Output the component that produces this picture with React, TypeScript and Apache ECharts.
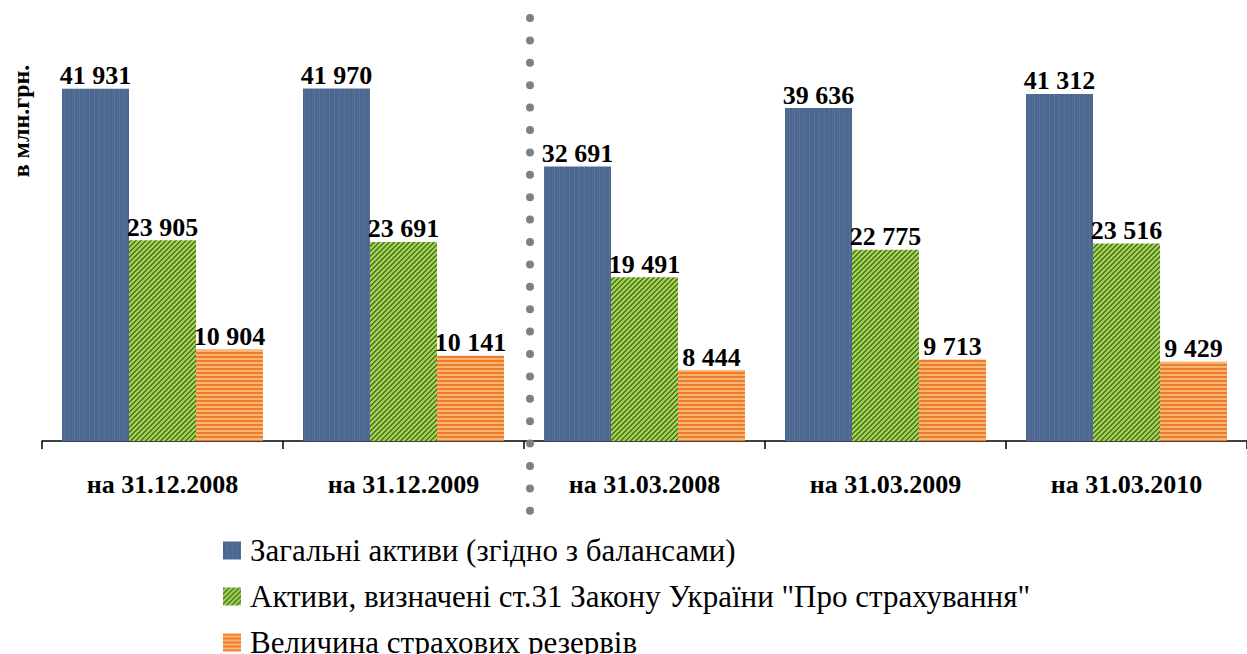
import React, { useEffect, useRef } from "react";
import * as echarts from "echarts";

const categories = ["на 31.12.2008", "на 31.12.2009", "на 31.03.2008", "на 31.03.2009", "на 31.03.2010"];
const seriesNames = [
  "Загальні активи (згідно з балансами)",
  "Активи, визначені ст.31 Закону України \"Про страхування\"",
  "Величина страхових резервів",
];
const totalAssets = [41931, 41970, 32691, 39636, 41312];
const definedAssets = [23905, 23691, 19491, 22775, 23516];
const reserves = [10904, 10141, 8444, 9713, 9429];
const yTitle = "в млн.грн.";

function makeTile(w: number, h: number, colorAt: (x: number, y: number) => string) {
  const c = document.createElement("canvas");
  c.width = w;
  c.height = h;
  const ctx = c.getContext("2d")!;
  for (let x = 0; x < w; x++) {
    for (let y = 0; y < h; y++) {
      ctx.fillStyle = colorAt(x, y);
      ctx.fillRect(x, y, 1, 1);
    }
  }
  return c;
}

const fmt = (v: number) => String(v).replace(/\B(?=(\d{3})+(?!\d))/g, " ");

export default function App() {
  const ref = useRef<HTMLDivElement>(null);
  useEffect(() => {
    if (!ref.current) return;
    const chart = echarts.init(ref.current, undefined, { renderer: "svg" });
    const blueTile = makeTile(5, 1, (x) => (x === 4 ? "#5E6F99" : x === 2 ? "#4F6C94" : "#4A678F"));
    const greenTile = makeTile(5, 5, (x, y) => ((x + y) % 5 < 2 ? "#4E7D1E" : "#A3CD57"));
    const orangeTile = makeTile(1, 4, (_x, y) => (y < 2 ? "#EE7A2A" : "#F9B672"));
    const pat = (img: HTMLCanvasElement) => ({ image: img, repeat: "repeat" } as any);
    const label = {
      show: true,
      position: "top",
      distance: 0,
      formatter: (p: any) => fmt(p.value),
      color: "#000",
      fontFamily: "Liberation Serif",
      fontWeight: "bold",
      fontSize: 26,
    };
    const mk = (name: string, data: number[], img: HTMLCanvasElement) => ({
      name,
      type: "bar",
      data,
      barWidth: 67,
      barGap: "0%",
      itemStyle: { color: pat(img) },
      label,
    });
    chart.setOption({
      animation: false,
      grid: { left: 42, width: 1215, top: 21, bottom: 213, containLabel: false },
      xAxis: {
        type: "category",
        data: categories,
        axisLine: { lineStyle: { color: "#000", width: 1.5 } },
        axisTick: { show: true, length: 8, lineStyle: { color: "#000", width: 1.5 } },
        axisLabel: {
          margin: 30,
          color: "#000",
          fontFamily: "Liberation Serif",
          fontWeight: "bold",
          fontSize: 26,
          interval: 0,
        },
      },
      yAxis: { type: "value", min: 0, max: 50000, show: false, splitLine: { show: false } },
      legend: {
        orient: "vertical",
        left: 218,
        top: 530,
        height: 200,
        itemWidth: 18,
        itemHeight: 18,
        itemGap: 15,
        icon: "rect",
        textStyle: {
          color: "#000",
          fontFamily: "Liberation Serif",
          fontSize: 31,
          padding: [0, 0, 0, 4],
        },
        data: seriesNames,
      },
      series: [
        mk(seriesNames[0], totalAssets, blueTile),
        mk(seriesNames[1], definedAssets, greenTile),
        mk(seriesNames[2], reserves, orangeTile),
      ],
      graphic: [
        {
          type: "line",
          z: 100,
          shape: { x1: 530, y1: 18, x2: 530, y2: 511 },
          style: { stroke: "#808080", lineWidth: 8, lineCap: "round", lineDash: [0, 22.4] },
        },
        {
          type: "text",
          x: 21,
          y: 121,
          rotation: Math.PI / 2,
          style: {
            text: yTitle,
            fill: "#000",
            font: "bold 24px 'Liberation Serif'",
            textAlign: "center",
            textVerticalAlign: "middle",
          },
        },
      ],
    });
    return () => chart.dispose();
  }, []);
  return <div ref={ref} style={{ width: 1247, height: 654, position: "absolute", left: 0, top: 0 }} />;
}
